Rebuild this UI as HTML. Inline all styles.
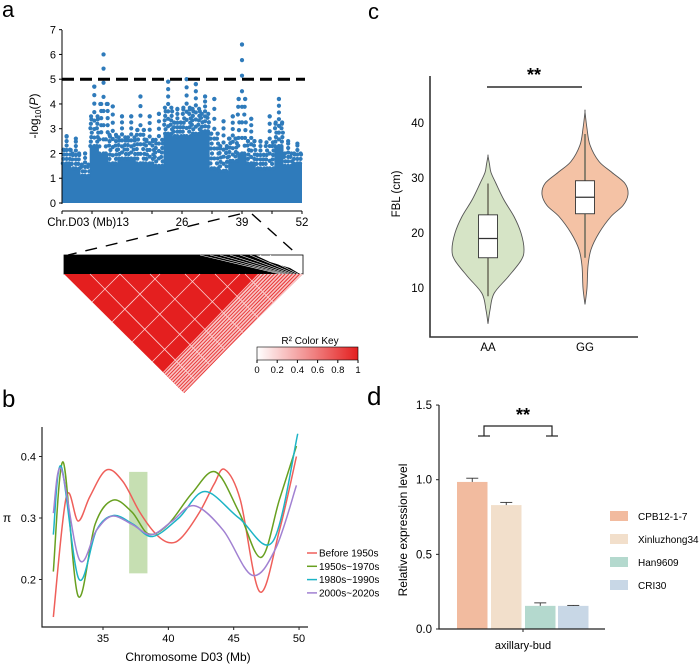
<!DOCTYPE html>
<html><head><meta charset="utf-8">
<style>
html,body{margin:0;padding:0;background:#fff;}
svg{display:block;font-family:"Liberation Sans",Arial,sans-serif;}
</style></head>
<body>
<svg id="fig" width="700" height="667" viewBox="0 0 700 667" xmlns="http://www.w3.org/2000/svg">
  <text x="2" y="17" font-size="22">a</text>
  <text x="368" y="19" font-size="22">c</text>
  <text x="2" y="407" font-size="24">b</text>
  <text x="367" y="405" font-size="26">d</text>
  <g id="pa"></g>
  <g id="ld"></g>
  <g id="pc"></g>
  <g id="pb"></g>
  <g id="pd"></g>
</svg>
<script>
// ---------- Panel a data ----------
const mBins = [1,3,5,7,9,11,13,15,17,19,21,23,25,27,29,31,33,35,37,39,41,43,45,47,49,51];
const mDense = [1.6,1.4,1.1,2.3,2.0,1.6,1.8,1.8,1.6,1.6,1.5,2.8,2.7,2.7,2.8,2.9,1.4,1.3,1.7,2.0,1.6,1.4,1.4,2.3,1.5,1.6];
const mMax = [2.7,2.6,2.0,4.7,6.0,3.9,3.5,3.5,4.3,3.5,3.6,4.9,3.8,5.0,4.8,4.3,4.2,3.3,3.5,6.4,3.4,2.5,3.5,4.2,2.5,2.4];
const mYTicks = [0,1,2,3,4,5,6,7];
const mXLabels = ["Chr.D03 (Mb)13","26","39","52"];
const mXLabelPos = [13,26,39,52];
const threshold = 5;
// ---------- Panel c data ----------
const vCats = ["AA","GG"];
const aaY = [3.5,6,9,12,15,17,20,23,26,29,31,32.5,34];
const aaW = [0,2,6,20,33,36,33,26,16,8,3,1.5,0];
const ggY = [7,10,14,17,20,23,25,27,29,31,33,36,39,42];
const ggW = [0,2,3,6,14,26,38,43,40,27,14,5,2,0];
const boxAA = [8.5,15.5,19,23.3,29];
const boxGG = [15.5,23.5,26.5,29.5,38];
const cYTicks = [10,20,30,40];
// ---------- Panel b data ----------
const bSeriesNames = ["Before 1950s","1950s~1970s","1980s~1990s","2000s~2020s"];
const redX = [31.2,32.2,33.1,34,35.25,36.5,37.8,39,40.05,41,42.4,43.5,44.3,45.5,47,48.5,49.8];
const redY = [0.139,0.335,0.295,0.335,0.378,0.36,0.31,0.275,0.26,0.268,0.31,0.355,0.379,0.33,0.18,0.28,0.40];
const greenX = [31.2,31.95,33.1,34.4,35.75,37.2,38.5,40,41.8,43.6,45.4,47.1,48.5,49.8];
const greenY = [0.213,0.391,0.173,0.29,0.329,0.31,0.274,0.29,0.34,0.375,0.31,0.236,0.33,0.417];
const tealX = [31.2,31.8,33.15,34.5,35.8,37.3,38.8,40.8,42.8,45.4,48,49.9];
const tealY = [0.273,0.384,0.201,0.28,0.304,0.29,0.27,0.3,0.343,0.3,0.262,0.437];
const purpleX = [31.2,31.8,33.2,34.5,35.7,37.2,38.7,40.3,42,44.2,46.4,48.2,49.8];
const purpleY = [0.308,0.38,0.232,0.28,0.303,0.29,0.273,0.295,0.32,0.28,0.207,0.25,0.353];
const bXTicks = [35,40,45,50];
const bYTicks = [0.2,0.3,0.4];
const highlight = [37,38.4,0.21,0.375];
// ---------- Panel d data ----------
const dCats = ["CPB12-1-7","Xinluzhong34","Han9609","CRI30"];
const dVals = [0.985,0.83,0.155,0.155];
const dErr = [0.025,0.018,0.02,0.003];
const dYTicks = [0.0,0.5,1.0,1.5];

const NS="http://www.w3.org/2000/svg";
function mk(parent,tag,attrs,text){const e=document.createElementNS(NS,tag);for(const k in attrs)e.setAttribute(k,attrs[k]);if(text!==undefined)e.textContent=text;parent.appendChild(e);return e;}

// ===== Panel a =====
(function(){
  const g=document.getElementById('pa');
  const X=v=>62+v*(240/52), Y=v=>203-v*24.76;
  const col="#2f7bbb";
  let d="M"+X(0)+","+Y(0);
  mBins.forEach((b,i)=>{d+=" L"+X(b-1)+","+Y(mDense[i])+" L"+X(b+1)+","+Y(mDense[i]);});
  d+=" L"+X(52)+","+Y(0)+" Z";
  const area=mk(g,'path',{d:d,fill:col});
  
  
  mBins.forEach((b,i)=>{
    const offs=[-0.7,0,0.7];
    offs.forEach((o,j)=>{
      const top=j===1?mMax[i]:(mDense[i]+mMax[i])/2;
      const step=Math.max(0.18,(top-mDense[i])/7);
      for(let v=mDense[i];v<=top+0.001;v+=step){
        const c=mk(g,'circle',{cx:X(b+o+(j===1?0:((v*7)%1-0.5)*0.4)),cy:Y(v),r:2.1,fill:col});
        
        
      }
      const c=mk(g,'circle',{cx:X(b+o),cy:Y(top),r:2.1,fill:col});
      
      
    });
  });
  const th=mk(g,'line',{x1:62,x2:305,y1:Y(threshold),y2:Y(threshold),stroke:"#000","stroke-width":3,"stroke-dasharray":"12,6"});
  
  
  const ya=mk(g,'line',{x1:62,x2:62,y1:30,y2:204,stroke:"#000","stroke-width":1});
  
  
  mYTicks.forEach(t=>{
    mk(g,'line',{x1:59,x2:62,y1:Y(t),y2:Y(t),stroke:"#000"});
    const tx=mk(g,'text',{x:56,y:Y(t)+4,"font-size":11,"text-anchor":"end"},String(t));
    
    
  });
  const xa=mk(g,'line',{x1:62,x2:302,y1:211,y2:211,stroke:"#000"});
  
  
  for(let k=0;k<=8;k++){mk(g,'line',{x1:X(k*6.5),x2:X(k*6.5),y1:211,y2:214,stroke:"#000"});}
  mXLabelPos.forEach((p,i)=>{
    const tx=mk(g,'text',{x:X(p)+ (i===0?7:0),y:226,"font-size":11.5,"text-anchor":i===0?"end":"middle"},mXLabels[i]);
    
    
  });
  const yt=mk(g,'text',{transform:"translate(38,116) rotate(-90)","font-size":12,"text-anchor":"middle"});
  
  
  yt.innerHTML='-log<tspan font-size="8" dy="3">10</tspan><tspan dy="-3">(</tspan><tspan font-style="italic">P</tspan>)';
})();

// ===== LD heatmap =====
(function(){
  const g=document.getElementById('ld');
  mk(g,'line',{x1:240,y1:214,x2:68,y2:255,stroke:"#000","stroke-width":1.4,"stroke-dasharray":"12,9"});
  mk(g,'line',{x1:252,y1:214,x2:300,y2:257,stroke:"#000","stroke-width":1.4,"stroke-dasharray":"12,9"});
  mk(g,'rect',{x:64,y:255,width:239,height:19,fill:"#fff",stroke:"#000","stroke-width":0.8});
  mk(g,'path',{d:"M64,255 L255,255 L270,262 L290,268 L300,274 L64,274 Z",fill:"#000"});
  for(let i=0;i<8;i++){mk(g,'line',{x1:200+i*10,y1:255,x2:280+i*3,y2:274,stroke:"#fff","stroke-width":0.6});}
  const tri=mk(g,'path',{d:"M64,274 L303,274 L183,392 Z",fill:"#e41f1f"});
  
  
  mk(g,'path',{d:"M258,274 L303,274 L183,392 L163,372 Z",fill:"#f8c4c4"});
  for(let i=0;i<12;i++){const o=i*3.6;mk(g,'line',{x1:260+o,y1:274,x2:164+o*0.5,y2:373+o*0.5,stroke:"#e83030","stroke-width":0.9});}
  [90,120,150,185,215,245].forEach(x=>{mk(g,'line',{x1:x,y1:274,x2:x+(303-x)/2*0.98,y2:274+(303-x)/2*0.99,stroke:"#fbd0d0","stroke-width":0.8});});
  [120,160,200,240].forEach(x=>{mk(g,'line',{x1:x,y1:274,x2:x-(x-64)/2,y2:274+(x-64)/2,stroke:"#fbd0d0","stroke-width":0.8});});
  mk(g,'text',{x:310,y:344,"font-size":10,"text-anchor":"middle"},"R² Color Key");
  const defs=mk(g,'defs',{});
  const lg=mk(defs,'linearGradient',{id:"r2g",x1:0,x2:1,y1:0,y2:0});
  mk(lg,'stop',{offset:0,"stop-color":"#fff"});mk(lg,'stop',{offset:1,"stop-color":"#e41f1f"});
  const key=mk(g,'rect',{x:257,y:347,width:101,height:13,fill:"url(#r2g)",stroke:"#000","stroke-width":0.6});
  
  
  ["0","0.2","0.4","0.6","0.8","1"].forEach((t,i)=>{const x=257+i*20.2;mk(g,'line',{x1:x,x2:x,y1:360,y2:363,stroke:"#000"});mk(g,'text',{x:x,y:373,"font-size":9.5,"text-anchor":"middle"},t);});
})();

function smooth(pts,closed){
  const n=pts.length;let d="M"+pts[0][0]+","+pts[0][1];
  for(let i=0;i<n-1;i++){
    const p0=pts[Math.max(i-1,0)],p1=pts[i],p2=pts[i+1],p3=pts[Math.min(i+2,n-1)];
    const c1=[p1[0]+(p2[0]-p0[0])/6,p1[1]+(p2[1]-p0[1])/6];
    const c2=[p2[0]-(p3[0]-p1[0])/6,p2[1]-(p3[1]-p1[1])/6];
    d+=" C"+c1[0]+","+c1[1]+" "+c2[0]+","+c2[1]+" "+p2[0]+","+p2[1];
  }
  return closed?d+" Z":d;
}

// ===== Panel c =====
(function(){
  const g=document.getElementById('pc');
  const Y=v=>288-(v-10)*5.5;
  const cx=[488,585];
  const fills=["#d6e4c6","#f4c2a5"];
  [[aaY,aaW,boxAA],[ggY,ggW,boxGG]].forEach((s,i)=>{
    const ys=s[0],ws=s[1],bx=s[2];
    const L=ys.map((y,k)=>[cx[i]-ws[k],Y(y)]), R=ys.map((y,k)=>[cx[i]+ws[k],Y(y)]).reverse();
    const pts=L.concat(R);
    const v=mk(g,'path',{d:smooth(pts,true),fill:fills[i],stroke:"#555","stroke-width":0.9});
    
    
    mk(g,'line',{x1:cx[i],x2:cx[i],y1:Y(bx[0]),y2:Y(bx[4]),stroke:"#6b6b5a","stroke-width":1.5});
    const b=mk(g,'rect',{x:cx[i]-9.5,y:Y(bx[3]),width:19,height:Y(bx[1])-Y(bx[3]),fill:"#fff",stroke:"#333","stroke-width":0.9});
    
    
    mk(g,'line',{x1:cx[i]-9.5,x2:cx[i]+9.5,y1:Y(bx[2]),y2:Y(bx[2]),stroke:"#333","stroke-width":1.2});
    const t=mk(g,'text',{x:cx[i],y:351,"font-size":11.5,"text-anchor":"middle"},vCats[i]);
    
    
  });
  mk(g,'polyline',{points:"430,76 430,337 638,337",fill:"none",stroke:"#333","stroke-width":1.6});
  cYTicks.forEach(t=>{const tx=mk(g,'text',{x:424,y:Y(t)+4,"font-size":11.5,"text-anchor":"end"},String(t));
    
    });
  const yt=mk(g,'text',{transform:"translate(400,194) rotate(-90)","font-size":11.5,"text-anchor":"middle"},"FBL (cm)");
  
  
  mk(g,'line',{x1:487,x2:582,y1:87,y2:87,stroke:"#000","stroke-width":1.2});
  mk(g,'text',{x:534,y:81,"font-size":18,"text-anchor":"middle","font-weight":"bold"},"**");
})();

// ===== Panel b =====
(function(){
  const g=document.getElementById('pb');
  const X=v=>103+(v-35)*13.07, Y=v=>518-(v-0.3)*615;
  const hl=mk(g,'rect',{x:X(highlight[0]),y:Y(highlight[3]),width:X(highlight[1])-X(highlight[0]),height:Y(highlight[2])-Y(highlight[3]),fill:"#c6dfb2"});
  
  
  const series=[[redX,redY,"#ef5f5a"],[greenX,greenY,"#68a020"],[tealX,tealY,"#1db4c6"],[purpleX,purpleY,"#a181d2"]];
  series.forEach((s,i)=>{
    const pts=s[0].map((x,k)=>[X(x),Y(s[1][k])]);
    const p=mk(g,'path',{d:smooth(pts,false),fill:"none",stroke:s[2],"stroke-width":1.5});
    
    
    const ly=553+i*13.3;
    mk(g,'line',{x1:307,x2:317,y1:ly,y2:ly,stroke:s[2],"stroke-width":1.5});
    const t=mk(g,'text',{x:319,y:ly+3.5,"font-size":10},bSeriesNames[i]);
    
    
  });
  mk(g,'polyline',{points:"42,427 42,627 308,627",fill:"none",stroke:"#222","stroke-width":1.2});
  bXTicks.forEach(t=>{mk(g,'line',{x1:X(t),x2:X(t),y1:627,y2:630,stroke:"#222"});
    const tx=mk(g,'text',{x:X(t),y:642,"font-size":11,"text-anchor":"middle"},String(t));
    
    });
  bYTicks.forEach(t=>{mk(g,'line',{x1:39,x2:42,y1:Y(t),y2:Y(t),stroke:"#222"});
    const tx=mk(g,'text',{x:36,y:Y(t)+4,"font-size":11,"text-anchor":"end"},t.toFixed(1));
    
    });
  mk(g,'text',{x:7,y:522,"font-size":12,"text-anchor":"middle"},"π");
  const xt=mk(g,'text',{x:188,y:661,"font-size":12,"text-anchor":"middle"},"Chromosome D03 (Mb)");
  
  
})();

// ===== Panel d =====
(function(){
  const g=document.getElementById('pd');
  const Y=v=>629-v*149.3;
  const bx=[457,491,525,558], bw=30.5;
  const cols=["#f2bb9f","#f2dfcb","#b4d9ce","#c8d7e6"];
  dVals.forEach((v,i)=>{
    const r=mk(g,'rect',{x:bx[i],y:Y(v),width:bw,height:Y(0)-Y(v),fill:cols[i]});
    
    
    const cx=bx[i]+bw/2;
    mk(g,'line',{x1:cx,x2:cx,y1:Y(v),y2:Y(v+dErr[i]),stroke:"#333","stroke-width":0.9});
    mk(g,'line',{x1:cx-6,x2:cx+6,y1:Y(v+dErr[i]),y2:Y(v+dErr[i]),stroke:"#333","stroke-width":0.9});
    const ly=516+i*23;
    const sw=mk(g,'rect',{x:610,y:ly-5,width:18,height:10,fill:cols[i]});
    
    
    const t=mk(g,'text',{x:638,y:ly+4,"font-size":10},dCats[i]);
    
    
  });
  mk(g,'polyline',{points:"439,405 439,629 605,629",fill:"none",stroke:"#222","stroke-width":1.2});
  mk(g,'line',{x1:523,x2:523,y1:629,y2:632,stroke:"#222"});
  dYTicks.forEach(t=>{mk(g,'line',{x1:436,x2:439,y1:Y(t),y2:Y(t),stroke:"#222"});
    const tx=mk(g,'text',{x:432,y:Y(t)+4,"font-size":11.5,"text-anchor":"end"},t.toFixed(1));
    
    });
  const xl=mk(g,'text',{x:523,y:649,"font-size":11,"text-anchor":"middle"},"axillary-bud");
  
  
  const yt=mk(g,'text',{transform:"translate(407,530) rotate(-90)","font-size":12,"text-anchor":"middle"},"Relative expression level");
  
  
  mk(g,'polyline',{points:"484,436 484,426 552,426 552,436",fill:"none",stroke:"#222","stroke-width":1.2});
  mk(g,'line',{x1:478,x2:490,y1:436,y2:436,stroke:"#222","stroke-width":1.2});
  mk(g,'line',{x1:546,x2:558,y1:436,y2:436,stroke:"#222","stroke-width":1.2});
  mk(g,'text',{x:523,y:421,"font-size":18,"text-anchor":"middle","font-weight":"bold"},"**");
})();
</script>
</body></html>
